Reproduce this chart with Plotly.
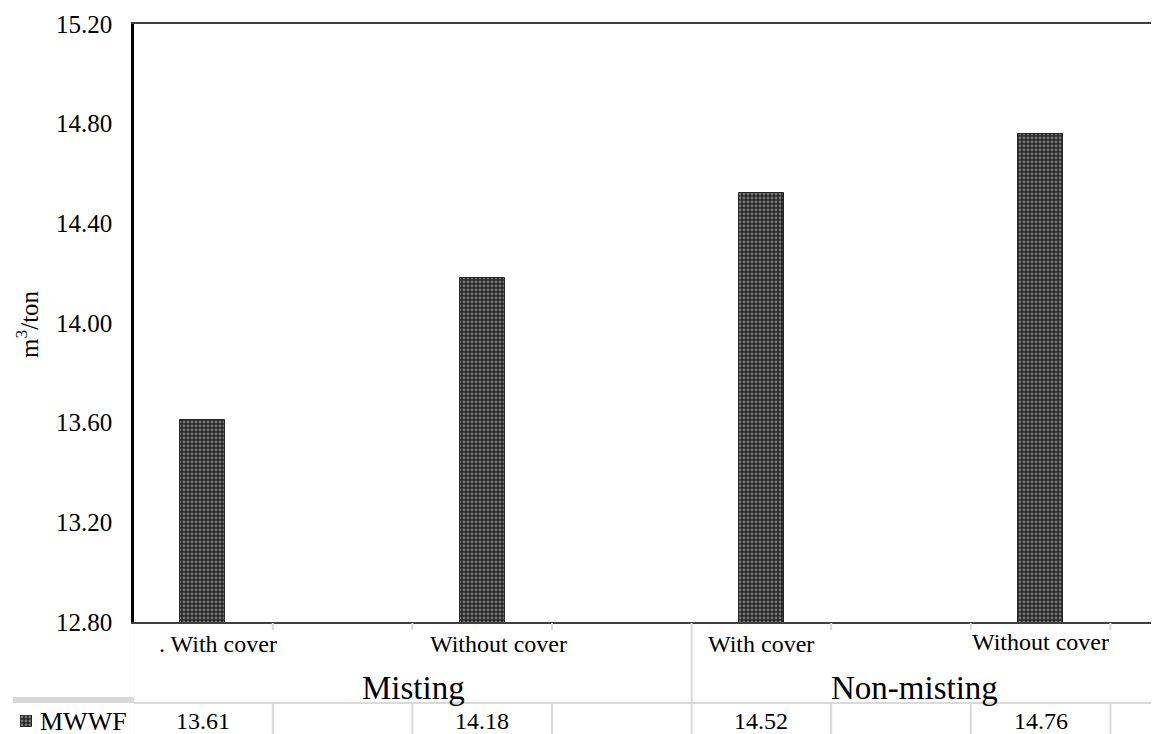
import plotly.graph_objects as go

# ---- data ----
categories = ["With cover", "Without cover", "With cover", "Without cover"]
groups = ["Misting", "Non-misting"]
series_name = "MWWF"
values = [13.61, 14.18, 14.52, 14.76]
y_ticks = [12.80, 13.20, 13.60, 14.00, 14.40, 14.80, 15.20]

FONT = "Liberation Serif"
OFF = 8                      # page body margin of the browser
W, H = 1159 - OFF, 734 - OFF
x_idx = list(range(len(categories)))


def PX(p):  # screenshot pixel x -> paper x
    return (p - OFF) / W


def PY(p):  # screenshot pixel y -> paper y
    return (H - (p - OFF)) / H


bar_pattern = dict(shape=".", bgcolor="#262626", fgcolor="#c8c8c8",
                   size=4, solidity=0.4, fillmode="overlay")

fig = go.Figure()
fig.add_trace(go.Bar(
    x=x_idx, y=values, name=series_name, width=0.161,
    marker=dict(color="#bdbdbd", line=dict(color="#262626", width=1),
                pattern=bar_pattern),
    showlegend=False, xaxis="x", yaxis="y",
))
# legend key swatch inside the data table (same pattern as the series)
fig.add_trace(go.Bar(
    x=[0], y=[1], width=1, name=series_name,
    marker=dict(color="#bdbdbd", line=dict(color="#262626", width=1),
                pattern=bar_pattern),
    showlegend=False, xaxis="x2", yaxis="y2", hoverinfo="skip",
))

annotations = []
# category labels
cat_off = [0.055, 0.057, 0.0, 0.0]
cat_y = [644, 644, 644, 642]
for i, c in enumerate(categories):
    txt = (". " + c) if i == 0 else c
    annotations.append(dict(x=x_idx[i] + cat_off[i], y=PY(cat_y[i]), xref="x", yref="paper",
                            text=txt, showarrow=False, yanchor="middle",
                            font=dict(family=FONT, size=24, color="#000")))
# group labels
grp_x = [0.754, 2.55]
for g, gx in zip(groups, grp_x):
    annotations.append(dict(x=gx, y=PY(688), xref="x", yref="paper", text=g,
                            showarrow=False, yanchor="middle",
                            font=dict(family=FONT, size=33, color="#000")))
# data table values
for i, v in enumerate(values):
    annotations.append(dict(x=x_idx[i], y=PY(721), xref="x", yref="paper",
                            text=f"{v:.2f}", showarrow=False, yanchor="middle",
                            font=dict(family=FONT, size=24, color="#000")))
# series name in table
annotations.append(dict(x=PX(38), y=PY(721), xref="paper", yref="paper",
                        text=series_name, showarrow=False, xanchor="left",
                        yanchor="middle", font=dict(family=FONT, size=26, color="#000")))
# y-axis title
annotations.append(dict(x=PX(27), y=PY(324), xref="paper", yref="paper",
                        text="m<sup>3</sup>/ton", showarrow=False, textangle=-90,
                        xanchor="center", yanchor="middle",
                        font=dict(family=FONT, size=25, color="#000")))

grid = "#d9d9d9"
shapes = []
shapes.append(dict(type="line", xref="paper", yref="paper", x0=PX(134), x1=1,
                   y0=PY(703), y1=PY(703), line=dict(color=grid, width=2)))
shapes.append(dict(type="rect", xref="paper", yref="paper",
                   x0=PX(13), x1=PX(134), y0=PY(703), y1=PY(697),
                   fillcolor=grid, line=dict(width=0)))
for k in range(8):
    xv = -0.25 + 0.5 * k
    if k in (0, 4):
        shapes.append(dict(type="line", xref="x", yref="paper", x0=xv, x1=xv,
                           y0=PY(623), y1=PY(734), line=dict(color=grid, width=2)))
    else:
        shapes.append(dict(type="line", xref="x", yref="paper", x0=xv, x1=xv,
                           y0=PY(703), y1=PY(734), line=dict(color=grid, width=2)))
        shapes.append(dict(type="line", xref="x", yref="paper", x0=xv, x1=xv,
                           y0=PY(623), y1=PY(630), line=dict(color=grid, width=2)))

fig.update_layout(
    width=W, height=H, autosize=False,
    margin=dict(l=0, r=0, t=0, b=0, pad=0),
    plot_bgcolor="white", paper_bgcolor="white",
    font=dict(family=FONT, size=24, color="#000"),
    xaxis=dict(domain=[PX(134), 1], range=[-0.247, 3.424], showticklabels=False,
               showgrid=False, zeroline=False, showline=True, linecolor="#404040",
               linewidth=2, mirror=True, ticks="", automargin=False, fixedrange=True),
    yaxis=dict(domain=[PY(622), PY(24)], range=[12.8, 15.2], tickvals=y_ticks,
               ticktext=[f"{t:.2f}" for t in y_ticks], showgrid=False,
               zeroline=False, showline=True, linecolor="#000", linewidth=2.5,
               ticks="", ticklabelstandoff=14, automargin=False,
               tickfont=dict(family=FONT, size=25, color="#000")),
    xaxis2=dict(domain=[PX(20), PX(32)], range=[-0.5, 0.5], visible=False,
                anchor="y2", automargin=False),
    yaxis2=dict(domain=[PY(727), PY(715)], range=[0, 1], visible=False,
                anchor="x2", automargin=False),
    showlegend=False,
    annotations=annotations, shapes=shapes,
    bargap=0,
)

fig.write_html("out.html")
